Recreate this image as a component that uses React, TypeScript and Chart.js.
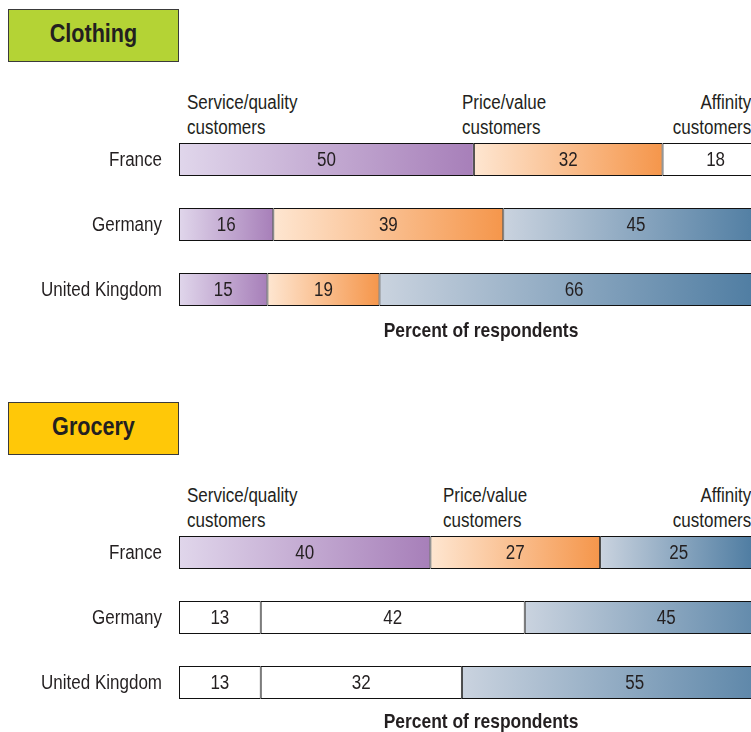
import { useEffect, useRef } from "react";
import { Chart, registerables } from "chart.js";

Chart.register(...registerables);

// ---------- data ----------
const countries = ["France", "Germany", "United Kingdom"];
const segmentNames = ["Service/quality customers", "Price/value customers", "Affinity customers"];

const clothingServiceQuality = [50, 16, 15];
const clothingPriceValue = [32, 39, 19];
const clothingAffinity = [18, 45, 66];

const groceryServiceQuality = [40, 13, 13];
const groceryPriceValue = [27, 42, 32];
const groceryAffinity = [25, 45, 55];

// fill style per country (row) and segment (column)
const clothingFills = [
  ["purple", "orange", "white"],
  ["purple", "orange", "blue"],
  ["purple", "orange", "blue"],
];
const groceryFills = [
  ["purple", "orange", "blue"],
  ["white", "white", "blue"],
  ["white", "white", "blue"],
];

// ---------- styles ----------
const FONT = '"Liberation Sans", Arial, sans-serif';
const NARROW = 0.85;
const NARROW_BOLD = 0.83;
const TEXT = "#231f20";
const GRADS: Record<string, [string, string]> = {
  purple: ["#e0d6eb", "#a77fb9"],
  orange: ["#fee6d1", "#f5964b"],
  blue: ["#cad3df", "#4b7aa0"],
};

function narrowText(ctx: any, text: string, x: number, y: number, align: CanvasTextAlign) {
  ctx.save();
  ctx.translate(x, y);
  ctx.scale(NARROW, 1);
  ctx.textAlign = align;
  ctx.fillText(text, 0, 0);
  ctx.restore();
}

const textPlugin = {
  id: "textPlugin",
  afterDatasetsDraw(chart: any) {
    const ctx = chart.ctx;
    ctx.save();
    ctx.font = `20px ${FONT}`;
    ctx.fillStyle = TEXT;
    ctx.textBaseline = "middle";
    // value labels
    chart.data.datasets.forEach((ds: any, di: number) => {
      const meta = chart.getDatasetMeta(di);
      meta.data.forEach((el: any, i: number) => {
        const cx = (el.x + el.base) / 2;
        narrowText(ctx, String(ds.data[i]), cx, el.y + 1, "center");
      });
    });
    // category labels
    const ys = chart.scales.y;
    chart.data.labels.forEach((lab: string, i: number) => {
      narrowText(ctx, lab, chart.chartArea.left - 17, ys.getPixelForValue(i) + 1, "right");
    });
    ctx.restore();
  },
};

function Panel({
  top,
  height,
  series,
  fills,
  max,
}: {
  top: number;
  height: number;
  series: number[][];
  fills: string[][];
  max: number;
}) {
  const ref = useRef<HTMLCanvasElement | null>(null);
  useEffect(() => {
    if (!ref.current) return;
    const bg = (ctx: any) => {
      const di = ctx.datasetIndex;
      const i = ctx.dataIndex;
      if (i === undefined || di === undefined) return "#ffffff";
      const key = fills[i][di];
      if (key === "white") return "#ffffff";
      const stops = GRADS[key];
      const xs = ctx.chart.scales?.x;
      if (!xs) return stops[1];
      let start = 0;
      for (let d = 0; d < di; d++) start += series[d][i];
      const x0 = xs.getPixelForValue(start);
      const x1 = xs.getPixelForValue(start + series[di][i]);
      if (!isFinite(x0) || !isFinite(x1) || x1 === x0) return stops[1];
      const g = ctx.chart.ctx.createLinearGradient(x0, 0, x1, 0);
      g.addColorStop(0, stops[0]);
      g.addColorStop(1, stops[1]);
      return g;
    };
    const chart = new Chart(ref.current, {
      type: "bar",
      data: {
        labels: countries,
        datasets: series.map((vals, di) => ({
          label: segmentNames[di],
          data: vals,
          backgroundColor: bg,
          borderColor: "#111111",
          borderWidth: 1,
          borderSkipped: false,
          barThickness: 33,
          inflateAmount: 0,
        })),
      },
      options: {
        indexAxis: "y",
        responsive: false,
        animation: false,
        layout: { padding: 0 },
        plugins: {
          legend: { display: false },
          tooltip: { enabled: false },
          title: { display: false },
        },
        scales: {
          x: { display: false, stacked: true, min: 0, max },
          y: {
            stacked: true,
            grid: { display: false, drawTicks: false },
            border: { display: false },
            ticks: { display: false },
            afterFit: (scale: any) => {
              scale.width = 179;
              scale.paddingTop = 0;
              scale.paddingBottom = 0;
            },
          },
        },
      } as any,
      plugins: [textPlugin],
    });
    return () => chart.destroy();
  }, []);
  return (
    <canvas
      ref={ref}
      width={751}
      height={height}
      style={{ position: "absolute", left: 0, top, width: 751, height }}
    />
  );
}

const abs = (o: any) => ({ position: "absolute" as const, ...o });

function Headers({ top, priceLeft }: { top: number; priceLeft: number }) {
  const base = {
    fontFamily: FONT,
    fontSize: 20,
    lineHeight: "25px",
    color: TEXT,
    whiteSpace: "nowrap" as const,
  };
  return (
    <>
      <div style={abs({ ...base, left: 187, top, transform: `scaleX(${NARROW})`, transformOrigin: "left top" })}>
        Service/quality
        <br />
        customers
      </div>
      <div style={abs({ ...base, left: priceLeft, top, transform: `scaleX(${NARROW})`, transformOrigin: "left top" })}>
        Price/value
        <br />
        customers
      </div>
      <div
        style={abs({
          ...base,
          right: 0,
          top,
          textAlign: "right",
          transform: `scaleX(${NARROW})`,
          transformOrigin: "right top",
        })}
      >
        Affinity
        <br />
        customers
      </div>
    </>
  );
}

function TitleBox({ top, color, text }: { top: number; color: string; text: string }) {
  return (
    <>
      <div
        style={abs({
          left: 8,
          top,
          width: 171,
          height: 53,
          boxSizing: "border-box",
          background: color,
          border: "1px solid #3a3a3a",
        })}
      />
      <div
        style={abs({
          left: 8,
          width: 171,
          top: top + 11,
          textAlign: "center",
          fontFamily: FONT,
          fontWeight: "bold",
          fontSize: 26,
          lineHeight: "26px",
          color: TEXT,
          transform: `scaleX(${NARROW_BOLD})`,
          transformOrigin: "center top",
        })}
      >
        {text}
      </div>
    </>
  );
}

function AxisTitle({ top }: { top: number }) {
  return (
    <div
      style={abs({
        left: 331,
        width: 300,
        top,
        textAlign: "center",
        fontFamily: FONT,
        fontWeight: "bold",
        fontSize: 21,
        lineHeight: "21px",
        color: TEXT,
        transform: `scaleX(${NARROW_BOLD})`,
        transformOrigin: "center top",
      })}
    >
      Percent of respondents
    </div>
  );
}

export default function App() {
  return (
    <div
      style={{
        position: "absolute",
        left: 0,
        top: 0,
        width: 751,
        height: 732,
        overflow: "hidden",
        background: "#ffffff",
      }}
    >
      <TitleBox top={9} color="#b4d335" text="Clothing" />
      <Headers top={90} priceLeft={462} />
      <Panel
        top={127}
        height={195}
        series={[clothingServiceQuality, clothingPriceValue, clothingAffinity]}
        fills={clothingFills}
        max={97}
      />
      <AxisTitle top={319} />

      <TitleBox top={402} color="#ffc808" text="Grocery" />
      <Headers top={483} priceLeft={443} />
      <Panel
        top={520}
        height={195}
        series={[groceryServiceQuality, groceryPriceValue, groceryAffinity]}
        fills={groceryFills}
        max={91}
      />
      <AxisTitle top={710} />
    </div>
  );
}
